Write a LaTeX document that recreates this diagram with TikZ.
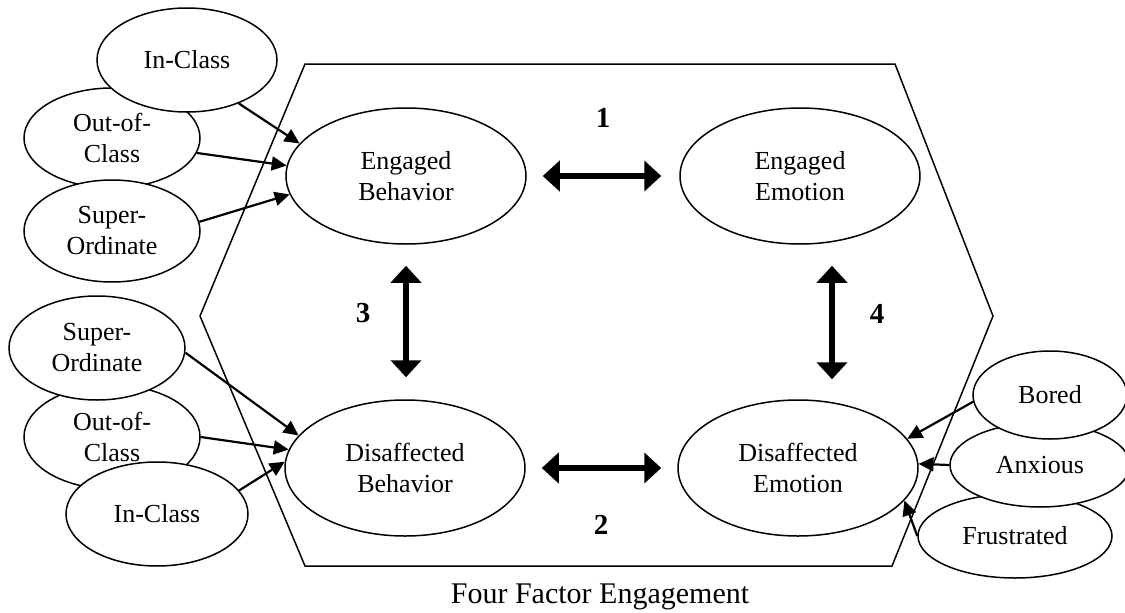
\documentclass[tikz,border=0pt]{standalone}
\usepackage{fontspec}
\setmainfont{Liberation Serif}
\usetikzlibrary{shapes.geometric,arrows.meta}
\begin{document}
\begin{tikzpicture}[x=1pt,y=-1pt,
  oval/.style={ellipse,draw,line width=1.5pt,fill=white,inner sep=0pt,align=center,font=\fontsize{26}{31}\selectfont},
  bigoval/.style={oval,minimum width=240pt,minimum height=136pt},
  thin arrow/.style={line width=2.2pt,-{Triangle[length=15pt,width=14pt]}},
  big arrow/.style={line width=6pt,{Triangle[length=17pt,width=30pt]}-{Triangle[length=17pt,width=30pt]}},
  num/.style={font=\bfseries\fontsize{29}{32}\selectfont}]
\useasboundingbox (0,0) rectangle (1125,613);
% hexagon frame
\draw[line width=1.5pt] (305,64) -- (895,64) -- (993,316) -- (892,566) -- (305,566) -- (200,316) -- cycle;
% central factors
\node[bigoval] (eb) at (406,176) {Engaged\\Behavior};
\node[bigoval] (ee) at (800,176) {Engaged\\Emotion};
\node[bigoval] (db) at (405,468) {Disaffected\\Behavior};
\node[bigoval] (de) at (798,468) {Disaffected\\Emotion};
% top-left group
\node[oval,minimum width=176pt,minimum height=100pt] (out1) at (112,138) {Out-of-\\Class};
\node[oval,minimum width=180pt,minimum height=104pt] (in1) at (187,60) {In-Class};
\node[oval,minimum width=176pt,minimum height=102pt] (sup1) at (112,231) {Super-\\Ordinate};
% bottom-left group
\node[oval,minimum width=176pt,minimum height=104pt] (out2) at (112,437) {Out-of-\\Class};
\node[oval,minimum width=176pt,minimum height=104pt] (sup2) at (97,348) {Super-\\Ordinate};
\node[oval,minimum width=182pt,minimum height=104pt] (in2) at (157,514) {In-Class};
% right group
\node[oval,minimum width=194pt,minimum height=84pt] (fru) at (1015,536) {Frustrated};
\node[oval,minimum width=180pt,minimum height=84pt] (anx) at (1040,465) {Anxious};
\node[oval,minimum width=154pt,minimum height=88pt] (bored) at (1050,395) {Bored};
% small arrows
\draw[thin arrow] (in1.-40) -- (eb.163);
\draw[thin arrow] (out1.-10) -- (eb.175);
\draw[thin arrow] (sup1.6) -- (eb.-171);
\draw[thin arrow] (sup2.-3) -- (db.163);
\draw[thin arrow] (out2.0) -- (db.171);
\draw[thin arrow] (in2.16) -- (db.177);
\draw[thin arrow] (bored.-175) -- (de.15);
\draw[thin arrow] (anx.180) -- (de.2);
\draw[thin arrow] (fru.180) -- (de.-17);
% big double arrows
\draw[big arrow,shorten <=16pt,shorten >=18pt] (eb.east) -- (ee.west);
\draw[big arrow,shorten <=16pt,shorten >=16pt] (db.east) -- (de.west);
\draw[big arrow,shorten <=21pt,shorten >=22pt] (eb.south) -- (eb.south |- db.north);
\draw[big arrow,shorten <=21pt,shorten >=20pt] ([xshift=32pt]ee.south) -- ([xshift=32pt]ee.south |- de.north);
% labels
\node[num] (n1) at (603,118) {1};
\node[num] (n2) at (601,525) {2};
\node[num] (n3) at (363,313) {3};
\node[num] (n4) at (877,314) {4};
\node[font=\fontsize{30}{34}\selectfont,anchor=base] (title) at (600,603) {Four Factor Engagement};
\end{tikzpicture}
\end{document}
